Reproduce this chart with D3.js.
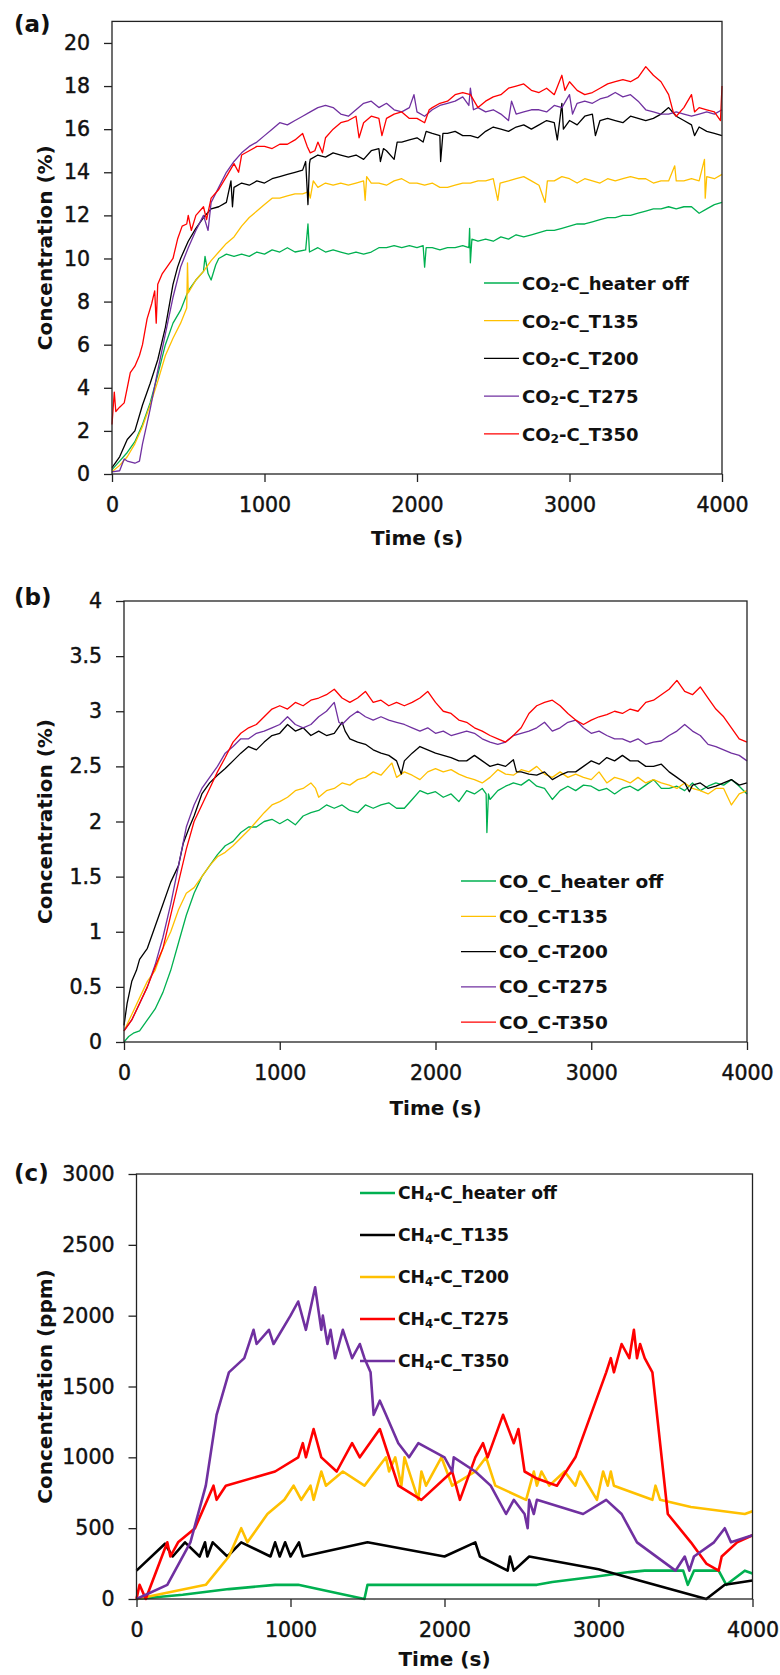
<!DOCTYPE html>
<html>
<head>
<meta charset="utf-8">
<script src="https://cdn.jsdelivr.net/npm/d3@7"></script>
<style>
  body { margin: 0; background: #fff; }
  svg text { font-family: "DejaVu Sans", sans-serif; fill: #111; }
</style>
</head>
<body>
<svg id="chart" width="780" height="1675"></svg>
<script>
// ---- shared ----
const timeTicks = [0, 1000, 2000, 3000, 4000];
const seriesColors = { green: "#00b050", yellow: "#ffc000", black: "#000000", purple: "#7030a0", red: "#ff0000" };

// ---- (a) CO2-C, % ----
const co2Ticks = [0, 2, 4, 6, 8, 10, 12, 14, 16, 18, 20];
const co2Labels = ["CO2-C_heater off", "CO2-C_T135", "CO2-C_T200", "CO2-C_T275", "CO2-C_T350"];
const co2HeaterOff = [[0,0.2],[50,0.6],[100,1.0],[150,1.5],[200,2.3],[250,3.3],[300,4.6],[350,6.0],[400,7.0],[450,7.6],[500,8.5],[550,9.0],[600,9.4],[610,10.1],[630,9.3],[650,9.0],[680,9.7],[700,10.0],[750,10.2],[800,10.1],[850,10.2],[900,10.1],[950,10.3],[1000,10.2],[1050,10.4],[1100,10.3],[1150,10.5],[1200,10.3],[1270,10.4],[1285,11.6],[1295,10.3],[1350,10.5],[1400,10.3],[1450,10.4],[1500,10.3],[1550,10.2],[1600,10.3],[1650,10.2],[1700,10.3],[1750,10.5],[1800,10.5],[1850,10.6],[1900,10.5],[1950,10.6],[2000,10.5],[2040,10.6],[2050,9.6],[2060,10.5],[2100,10.5],[2150,10.4],[2200,10.5],[2250,10.5],[2300,10.6],[2340,10.5],[2345,11.4],[2350,9.8],[2360,10.9],[2400,10.8],[2450,10.9],[2500,10.8],[2550,11.0],[2600,10.9],[2650,11.1],[2700,11.0],[2750,11.1],[2800,11.2],[2850,11.3],[2900,11.3],[2950,11.4],[3000,11.5],[3050,11.6],[3100,11.6],[3150,11.7],[3200,11.8],[3250,11.9],[3300,11.9],[3350,12.0],[3400,12.0],[3450,12.1],[3500,12.2],[3550,12.3],[3600,12.3],[3650,12.4],[3700,12.3],[3750,12.4],[3800,12.4],[3850,12.1],[3900,12.3],[3950,12.5],[4000,12.6]];
const co2T135 = [[0,0.1],[50,0.4],[100,0.8],[150,1.4],[200,2.2],[250,3.2],[300,4.3],[350,5.5],[400,6.3],[450,7.0],[490,7.7],[495,9.8],[500,8.4],[550,9.0],[600,9.4],[650,9.9],[700,10.3],[750,10.7],[800,11.0],[850,11.5],[900,11.9],[950,12.2],[1000,12.5],[1050,12.8],[1100,12.8],[1150,12.9],[1200,13.0],[1250,13.0],[1290,13.1],[1300,12.8],[1320,13.6],[1350,13.3],[1400,13.5],[1450,13.4],[1500,13.5],[1550,13.4],[1600,13.5],[1650,13.6],[1660,12.7],[1670,13.8],[1700,13.5],[1750,13.5],[1800,13.4],[1850,13.6],[1900,13.7],[1950,13.5],[2000,13.5],[2050,13.4],[2100,13.5],[2150,13.3],[2200,13.3],[2250,13.4],[2300,13.5],[2350,13.5],[2400,13.6],[2450,13.6],[2500,13.7],[2530,12.7],[2545,13.5],[2600,13.6],[2650,13.7],[2700,13.8],[2750,13.6],[2800,13.4],[2840,12.6],[2855,13.6],[2900,13.6],[2950,13.8],[3000,13.7],[3050,13.5],[3100,13.7],[3150,13.6],[3200,13.5],[3250,13.7],[3300,13.6],[3350,13.7],[3400,13.8],[3450,13.7],[3500,13.7],[3550,13.5],[3600,13.6],[3650,13.6],[3690,14.3],[3700,13.6],[3750,13.6],[3800,13.7],[3850,13.6],[3885,14.6],[3890,12.8],[3900,13.8],[3950,13.7],[4000,13.9]];
const co2T200 = [[0,0.3],[50,0.8],[100,1.6],[150,2.0],[200,3.2],[250,4.2],[300,5.3],[350,6.8],[400,8.8],[430,9.6],[450,10.0],[500,10.8],[550,11.4],[600,11.9],[650,12.3],[700,12.4],[750,12.6],[780,13.6],[790,12.4],[800,13.3],[850,13.5],[900,13.4],[950,13.6],[1000,13.5],[1050,13.7],[1100,13.8],[1150,13.9],[1200,14.0],[1250,14.1],[1270,14.5],[1285,12.5],[1295,14.4],[1300,14.6],[1350,14.8],[1400,14.7],[1450,14.9],[1500,14.8],[1550,14.7],[1600,14.8],[1650,14.6],[1700,15.0],[1750,15.1],[1760,14.5],[1780,15.1],[1800,15.0],[1850,14.6],[1870,15.4],[1900,15.4],[1950,15.5],[2000,15.6],[2040,15.4],[2060,15.9],[2100,15.8],[2150,15.7],[2155,14.5],[2170,15.8],[2200,15.8],[2250,15.9],[2300,15.7],[2350,15.7],[2400,15.6],[2450,15.9],[2500,16.1],[2550,16.0],[2600,15.9],[2650,16.1],[2700,16.2],[2750,16.0],[2800,16.2],[2850,16.4],[2900,16.3],[2920,15.5],[2950,17.2],[2960,16.0],[3000,16.4],[3050,16.2],[3100,16.6],[3150,16.7],[3170,15.7],[3200,16.4],[3250,16.5],[3300,16.4],[3350,16.3],[3400,16.6],[3450,16.5],[3500,16.4],[3550,16.5],[3600,16.7],[3650,17.0],[3700,16.6],[3750,16.4],[3800,16.2],[3820,15.7],[3850,16.1],[3900,15.9],[3950,15.8],[4000,15.7]];
const co2T275 = [[0,0.1],[50,0.15],[80,0.7],[100,0.6],[150,0.5],[180,0.6],[200,1.4],[250,3.0],[300,4.8],[350,6.5],[400,8.2],[450,9.6],[500,10.5],[550,11.3],[600,12.0],[630,11.3],[650,12.6],[700,13.3],[750,14.0],[800,14.5],[850,14.9],[900,15.2],[950,15.4],[1000,15.7],[1050,16.0],[1100,16.3],[1150,16.2],[1200,16.4],[1250,16.6],[1300,16.8],[1350,17.0],[1400,17.1],[1450,17.0],[1500,16.7],[1550,16.6],[1600,16.9],[1650,17.2],[1700,17.3],[1750,17.0],[1800,17.2],[1850,16.9],[1900,16.8],[1950,17.0],[1980,17.6],[2000,16.8],[2050,16.6],[2100,16.9],[2150,17.1],[2200,17.2],[2250,17.3],[2300,17.5],[2340,17.1],[2350,17.9],[2370,16.9],[2400,17.0],[2450,16.8],[2500,16.9],[2550,16.7],[2600,16.4],[2620,17.3],[2650,16.7],[2700,16.8],[2750,16.9],[2800,16.9],[2850,16.8],[2900,17.1],[2950,17.0],[3000,17.6],[3020,16.7],[3050,17.2],[3100,17.3],[3150,17.2],[3200,17.4],[3250,17.5],[3300,17.7],[3350,17.5],[3400,17.6],[3450,17.3],[3500,16.9],[3550,16.8],[3600,16.7],[3650,16.7],[3700,16.8],[3750,16.7],[3800,16.6],[3850,16.7],[3900,16.8],[3950,16.7],[4000,16.9]];
const co2T350 = [[0,2.3],[15,3.8],[25,2.9],[50,3.1],[80,3.3],[100,4.0],[120,4.7],[150,5.0],[180,5.5],[200,6.0],[230,7.2],[260,7.9],[280,8.5],[290,7.0],[300,8.8],[330,9.3],[360,9.6],[400,10.0],[430,10.9],[460,11.5],[490,11.6],[500,12.0],[520,11.3],[550,12.0],[600,12.4],[620,11.8],[650,12.8],[700,13.2],[750,13.8],[800,14.4],[830,14.0],[850,14.8],[900,15.0],[950,15.2],[1000,15.2],[1050,15.1],[1100,15.3],[1150,15.3],[1200,15.5],[1250,15.8],[1280,15.2],[1300,14.9],[1330,15.0],[1350,15.4],[1380,14.9],[1400,15.6],[1450,16.0],[1500,16.3],[1550,16.4],[1600,16.6],[1620,15.6],[1650,16.3],[1700,16.6],[1750,16.5],[1770,15.7],[1800,16.5],[1850,16.7],[1900,16.8],[1950,16.5],[2000,16.5],[2050,16.3],[2080,16.9],[2100,17.0],[2150,17.2],[2200,17.3],[2250,17.6],[2300,17.7],[2350,17.6],[2400,17.0],[2450,17.3],[2500,17.5],[2550,17.6],[2600,17.9],[2650,18.0],[2700,18.1],[2750,17.8],[2800,17.7],[2850,17.9],[2900,17.6],[2950,18.5],[2970,17.8],[3000,18.2],[3050,17.8],[3100,17.6],[3150,17.7],[3200,17.9],[3250,18.1],[3300,18.2],[3350,18.3],[3400,18.2],[3450,18.4],[3500,18.9],[3550,18.5],[3600,18.2],[3650,17.6],[3680,16.8],[3700,16.6],[3750,17.0],[3800,17.6],[3820,16.8],[3850,17.0],[3900,16.9],[3950,16.8],[3990,16.4],[4000,18.0]];

// ---- (b) CO_C, % ----
const coTicks = [0, 0.5, 1, 1.5, 2, 2.5, 3, 3.5, 4];
const coLabels = ["CO_C_heater off", "CO_C-T135", "CO_C-T200", "CO_C-T275", "CO_C-T350"];
const coHeaterOff = [[0,0],[30,0.05],[60,0.08],[100,0.1],[150,0.2],[200,0.3],[250,0.45],[300,0.65],[350,0.9],[400,1.15],[450,1.35],[500,1.5],[550,1.6],[600,1.7],[650,1.78],[700,1.82],[750,1.9],[800,1.95],[850,1.95],[900,2.0],[950,2.02],[1000,1.98],[1050,2.02],[1100,1.97],[1150,2.05],[1200,2.08],[1250,2.1],[1300,2.15],[1350,2.12],[1400,2.15],[1450,2.1],[1500,2.08],[1550,2.15],[1600,2.12],[1650,2.15],[1700,2.17],[1750,2.12],[1800,2.12],[1850,2.2],[1900,2.28],[1950,2.25],[2000,2.27],[2050,2.22],[2100,2.25],[2150,2.18],[2200,2.28],[2250,2.25],[2300,2.3],[2325,2.25],[2330,1.9],[2340,2.25],[2350,2.2],[2400,2.28],[2450,2.32],[2500,2.35],[2550,2.33],[2600,2.38],[2650,2.32],[2700,2.3],[2750,2.2],[2800,2.28],[2850,2.32],[2900,2.28],[2950,2.33],[3000,2.32],[3050,2.28],[3100,2.3],[3150,2.25],[3200,2.3],[3250,2.32],[3300,2.28],[3350,2.33],[3400,2.38],[3450,2.3],[3500,2.3],[3550,2.32],[3600,2.28],[3650,2.35],[3700,2.28],[3750,2.32],[3800,2.35],[3850,2.33],[3900,2.38],[3950,2.32],[4000,2.25]];
const coT135 = [[0,0.1],[50,0.25],[100,0.4],[150,0.55],[200,0.65],[250,0.85],[300,1.0],[350,1.2],[400,1.35],[450,1.4],[500,1.5],[550,1.6],[600,1.68],[650,1.72],[700,1.78],[750,1.85],[800,1.92],[850,2.0],[900,2.08],[950,2.15],[1000,2.18],[1050,2.22],[1100,2.28],[1150,2.3],[1200,2.35],[1230,2.3],[1250,2.22],[1300,2.28],[1350,2.3],[1400,2.35],[1450,2.33],[1500,2.38],[1550,2.4],[1600,2.45],[1650,2.42],[1700,2.5],[1720,2.53],[1750,2.4],[1800,2.45],[1850,2.42],[1900,2.38],[1950,2.45],[2000,2.48],[2050,2.45],[2100,2.47],[2150,2.43],[2200,2.4],[2250,2.38],[2300,2.35],[2350,2.4],[2400,2.47],[2450,2.43],[2500,2.42],[2550,2.47],[2600,2.45],[2650,2.5],[2700,2.43],[2750,2.4],[2800,2.45],[2850,2.4],[2900,2.43],[2950,2.4],[3000,2.38],[3050,2.45],[3100,2.35],[3150,2.4],[3200,2.38],[3250,2.35],[3300,2.4],[3350,2.35],[3400,2.38],[3450,2.35],[3500,2.33],[3550,2.3],[3600,2.35],[3650,2.3],[3700,2.28],[3750,2.25],[3800,2.3],[3850,2.3],[3900,2.15],[3950,2.25],[4000,2.28]];
const coT200 = [[0,0.15],[20,0.35],[50,0.55],[80,0.65],[100,0.75],[150,0.85],[200,1.05],[250,1.25],[300,1.45],[350,1.6],[380,1.8],[420,1.95],[450,2.05],[500,2.25],[550,2.35],[600,2.42],[650,2.48],[700,2.55],[750,2.62],[800,2.68],[850,2.65],[900,2.72],[950,2.78],[1000,2.8],[1050,2.88],[1100,2.82],[1150,2.85],[1200,2.78],[1250,2.82],[1300,2.78],[1350,2.8],[1400,2.9],[1420,2.82],[1450,2.75],[1500,2.72],[1550,2.7],[1600,2.65],[1650,2.62],[1700,2.6],[1750,2.55],[1780,2.43],[1800,2.55],[1850,2.62],[1900,2.68],[1950,2.65],[2000,2.62],[2050,2.6],[2100,2.58],[2150,2.55],[2200,2.55],[2250,2.6],[2300,2.55],[2350,2.5],[2400,2.52],[2450,2.5],[2500,2.56],[2520,2.45],[2550,2.45],[2600,2.43],[2650,2.42],[2700,2.45],[2750,2.38],[2800,2.42],[2850,2.45],[2900,2.45],[2950,2.5],[3000,2.55],[3050,2.52],[3100,2.58],[3150,2.55],[3200,2.6],[3250,2.55],[3300,2.55],[3350,2.5],[3400,2.5],[3450,2.52],[3500,2.45],[3550,2.4],[3600,2.35],[3630,2.27],[3650,2.33],[3700,2.35],[3750,2.3],[3800,2.32],[3850,2.35],[3900,2.38],[3950,2.33],[4000,2.35]];
const coT275 = [[0,0.1],[50,0.2],[100,0.35],[150,0.5],[200,0.7],[250,0.95],[300,1.25],[350,1.6],[400,1.95],[450,2.15],[500,2.3],[550,2.4],[600,2.5],[650,2.62],[700,2.68],[750,2.75],[800,2.75],[850,2.8],[900,2.82],[950,2.85],[1000,2.88],[1050,2.95],[1100,2.88],[1150,2.85],[1200,2.88],[1250,2.95],[1300,3.0],[1350,3.08],[1380,2.9],[1400,2.88],[1450,2.95],[1500,3.0],[1550,2.95],[1600,2.92],[1650,2.95],[1700,2.92],[1750,2.9],[1800,2.88],[1850,2.85],[1900,2.82],[1950,2.85],[2000,2.8],[2050,2.82],[2100,2.78],[2150,2.8],[2200,2.82],[2250,2.8],[2300,2.75],[2350,2.72],[2400,2.7],[2450,2.72],[2500,2.78],[2550,2.8],[2600,2.82],[2650,2.85],[2700,2.9],[2750,2.82],[2800,2.85],[2850,2.9],[2900,2.92],[2950,2.85],[3000,2.8],[3050,2.82],[3100,2.78],[3150,2.75],[3200,2.75],[3250,2.72],[3300,2.75],[3350,2.7],[3400,2.72],[3450,2.73],[3500,2.78],[3550,2.82],[3600,2.88],[3650,2.82],[3700,2.78],[3750,2.7],[3800,2.68],[3850,2.65],[3900,2.62],[3950,2.6],[4000,2.55]];
const coT350 = [[0,0.1],[50,0.2],[100,0.35],[150,0.5],[200,0.68],[250,0.85],[300,1.15],[350,1.45],[400,1.75],[450,2.0],[500,2.15],[550,2.3],[600,2.45],[650,2.58],[700,2.72],[750,2.8],[800,2.85],[850,2.88],[900,2.95],[950,3.02],[1000,3.05],[1050,3.02],[1100,3.08],[1150,3.05],[1200,3.1],[1250,3.12],[1300,3.15],[1350,3.2],[1400,3.12],[1450,3.08],[1500,3.12],[1550,3.18],[1600,3.08],[1650,3.1],[1700,3.05],[1750,3.08],[1800,3.05],[1850,3.08],[1900,3.12],[1950,3.18],[2000,3.08],[2050,3.0],[2100,2.98],[2150,2.92],[2200,2.9],[2250,2.85],[2300,2.82],[2350,2.78],[2400,2.75],[2450,2.72],[2500,2.78],[2550,2.85],[2600,2.98],[2650,3.05],[2700,3.08],[2750,3.1],[2800,3.05],[2850,2.98],[2900,2.92],[2950,2.88],[3000,2.92],[3050,2.95],[3100,2.97],[3150,3.0],[3200,2.98],[3250,3.02],[3300,3.0],[3350,3.08],[3400,3.1],[3450,3.15],[3500,3.2],[3550,3.28],[3600,3.18],[3650,3.15],[3700,3.22],[3750,3.12],[3800,3.02],[3850,2.95],[3900,2.85],[3950,2.75],[4000,2.72]];

// ---- (c) CH4-C, ppm ----
const ch4Ticks = [0, 500, 1000, 1500, 2000, 2500, 3000];
const ch4Labels = ["CH4-C_heater off", "CH4-C_T135", "CH4-C_T200", "CH4-C_T275", "CH4-C_T350"];
const ch4HeaterOff = [[0,0],[300,30],[600,70],[900,100],[1050,100],[1480,0],[1500,100],[2600,100],[2700,120],[3000,160],[3200,190],[3300,200],[3550,200],[3580,100],[3620,200],[3780,200],[3830,100],[3950,200],[4000,180]];
const ch4T135 = [[0,200],[185,390],[235,300],[315,400],[410,300],[445,400],[460,300],[495,400],[590,300],[680,400],[870,300],[900,400],[930,300],[965,400],[1000,300],[1055,400],[1080,300],[1500,400],[2000,300],[2200,400],[2230,300],[2410,200],[2425,300],[2450,200],[2550,300],[3000,210],[3700,0],[3820,100],[4000,130]];
const ch4T200 = [[0,0],[450,100],[600,300],[680,500],[720,400],[850,600],[960,700],[1020,800],[1070,700],[1130,800],[1150,700],[1200,900],[1230,800],[1340,900],[1480,800],[1620,1000],[1640,900],[1680,1000],[1720,800],[1740,1000],[1830,700],[1850,900],[1880,800],[1980,1000],[2050,800],[2200,900],[2270,1000],[2330,800],[2530,700],[2580,900],[2600,800],[2630,900],[2680,800],[2780,900],[2850,800],[2880,900],[2990,700],[3030,900],[3060,800],[3080,900],[3100,800],[3350,700],[3370,800],[3400,700],[3600,650],[3950,600],[4000,620]];
const ch4T275 = [[0,0],[20,100],[60,0],[200,400],[220,300],[270,400],[380,500],[500,800],[520,700],[580,800],[900,900],[1050,1000],[1080,1100],[1100,1000],[1150,1200],[1200,1000],[1300,900],[1400,1100],[1450,1000],[1580,1200],[1700,800],[1850,700],[2050,900],[2100,700],[2200,1000],[2250,1100],[2280,1000],[2380,1300],[2450,1100],[2480,1200],[2520,900],[2600,850],[2730,800],[2850,1000],[2950,1300],[3050,1600],[3080,1700],[3100,1600],[3150,1800],[3200,1700],[3230,1900],[3250,1700],[3270,1800],[3300,1700],[3350,1600],[3450,600],[3600,400],[3700,250],[3780,200],[3800,300],[3900,400],[4000,450]];
const ch4T350 = [[0,0],[200,100],[350,400],[450,800],[520,1300],[600,1600],[700,1700],[760,1900],[780,1800],[860,1900],[890,1800],[1000,2000],[1050,2100],[1100,1900],[1160,2200],[1200,1900],[1210,2000],[1240,1800],[1260,1900],[1290,1700],[1340,1900],[1400,1700],[1450,1800],[1480,1700],[1520,1600],[1540,1300],[1580,1400],[1620,1300],[1700,1100],[1770,1000],[1830,1100],[2000,1000],[2050,900],[2060,1000],[2200,900],[2300,800],[2400,600],[2450,700],[2520,600],[2540,500],[2550,700],[2580,600],[2600,700],[2900,600],[3050,700],[3150,600],[3250,400],[3500,200],[3560,300],[3590,200],[3620,300],[3750,400],[3820,500],[3860,400],[4000,450]];

const svg = d3.select("#chart");

// "CO2-C..." -> CO + subscript 2 + rest
function labelText(sel, label) {
  const m = label.match(/^(CO|CH)(\d)(.*)$/);
  if (!m) { sel.text(label); return; }
  sel.append("tspan").text(m[1]);
  sel.append("tspan").attr("font-size", "0.68em").attr("dy", 5).text(m[2]);
  sel.append("tspan").attr("dy", -5).text(m[3]);
}

function drawPanel(cfg) {
  const x = d3.scaleLinear().domain([0, 4000]).range([cfg.left, cfg.right]);
  const y = d3.scaleLinear().domain([0, cfg.yMax]).range([cfg.bottom, cfg.top]);
  const g = svg.append("g");

  const line = d3.line().x(d => x(d[0])).y(d => y(d[1]));
  g.append("g").selectAll("path")
    .data(cfg.series)
    .join("path")
      .attr("fill", "none")
      .attr("stroke", d => d.color)
      .attr("stroke-width", cfg.lineWidth)
      .attr("stroke-linejoin", "round")
      .attr("d", d => line(d.values));

  // plot frame
  g.append("rect")
    .attr("x", cfg.left).attr("y", cfg.top)
    .attr("width", cfg.right - cfg.left).attr("height", cfg.bottom - cfg.top)
    .attr("fill", "none").attr("stroke", "#222").attr("stroke-width", 1.3);

  const xAxis = g.append("g")
    .attr("transform", `translate(0,${cfg.bottom})`)
    .call(d3.axisBottom(x).tickValues(timeTicks).tickSize(8).tickPadding(15).tickFormat(d3.format("d")));
  const yAxis = g.append("g")
    .attr("transform", `translate(${cfg.left},0)`)
    .call(d3.axisLeft(y).tickValues(cfg.ticks).tickSize(8).tickPadding(14).tickFormat(d => String(d)));
  [xAxis, yAxis].forEach(a => {
    a.select(".domain").remove();
    a.selectAll(".tick line").attr("stroke", "#222").attr("stroke-width", 1.3);
    a.selectAll(".tick text")
      .attr("font-family", "DejaVu Sans, sans-serif")
      .attr("font-size", 20.5).attr("fill", "#111")
      .attr("stroke", "#111").attr("stroke-width", 0.45);
  });

  // axis titles
  g.append("text")
    .attr("x", (cfg.left + cfg.right) / 2).attr("y", cfg.bottom + cfg.xTitleGap)
    .attr("text-anchor", "middle").attr("dominant-baseline", "central")
    .attr("font-size", 20).attr("font-weight", 700)
    .text("Time (s)");
  g.append("text")
    .attr("transform", `translate(45,${(cfg.top + cfg.bottom) / 2}) rotate(-90)`)
    .attr("text-anchor", "middle").attr("dominant-baseline", "central")
    .attr("font-size", 20).attr("font-weight", 700)
    .text(cfg.yTitle);

  // panel tag
  g.append("text")
    .attr("x", 14).attr("y", cfg.tagY)
    .attr("dominant-baseline", "central")
    .attr("font-size", 23).attr("font-weight", 700)
    .text(cfg.tag);

  // legend
  const leg = g.append("g");
  cfg.series.forEach((s, i) => {
    const ly = cfg.legend.y0 + i * cfg.legend.dy;
    leg.append("line")
      .attr("x1", cfg.legend.x1).attr("x2", cfg.legend.x2)
      .attr("y1", ly).attr("y2", ly)
      .attr("stroke", s.color).attr("stroke-width", cfg.legendLineWidth);
    const t = leg.append("text")
      .attr("x", cfg.legend.x2 + 3).attr("y", ly)
      .attr("dominant-baseline", "central")
      .attr("font-size", cfg.legend.fontSize).attr("font-weight", 700);
    labelText(t, s.label);
  });
}

drawPanel({
  tag: "(a)", tagY: 24, xTitleGap: 64,
  left: 112, right: 722, top: 21.4, bottom: 474, yMax: 21,
  ticks: co2Ticks, yTitle: "Concentration (%)", lineWidth: 1.3, legendLineWidth: 1.3,
  legend: { x1: 484, x2: 519, y0: 283, dy: 37.7, fontSize: 18 },
  series: [
    { label: co2Labels[0], color: seriesColors.green, values: co2HeaterOff },
    { label: co2Labels[1], color: seriesColors.yellow, values: co2T135 },
    { label: co2Labels[2], color: seriesColors.black, values: co2T200 },
    { label: co2Labels[3], color: seriesColors.purple, values: co2T275 },
    { label: co2Labels[4], color: seriesColors.red, values: co2T350 }
  ]
});

drawPanel({
  tag: "(b)", tagY: 597, xTitleGap: 66,
  left: 124, right: 747, top: 601, bottom: 1042, yMax: 4,
  ticks: coTicks, yTitle: "Concentration (%)", lineWidth: 1.3, legendLineWidth: 1.3,
  legend: { x1: 461, x2: 496, y0: 881, dy: 35.3, fontSize: 18.5 },
  series: [
    { label: coLabels[0], color: seriesColors.green, values: coHeaterOff },
    { label: coLabels[1], color: seriesColors.yellow, values: coT135 },
    { label: coLabels[2], color: seriesColors.black, values: coT200 },
    { label: coLabels[3], color: seriesColors.purple, values: coT275 },
    { label: coLabels[4], color: seriesColors.red, values: coT350 }
  ]
});

drawPanel({
  tag: "(c)", tagY: 1173, xTitleGap: 60,
  left: 136.5, right: 752.5, top: 1174, bottom: 1599, yMax: 3000,
  ticks: ch4Ticks, yTitle: "Concentration (ppm)", lineWidth: 2.6, legendLineWidth: 2.6,
  legend: { x1: 360, x2: 395, y0: 1193, dy: 42, fontSize: 17.2 },
  series: [
    { label: ch4Labels[0], color: seriesColors.green, values: ch4HeaterOff },
    { label: ch4Labels[1], color: seriesColors.black, values: ch4T135 },
    { label: ch4Labels[2], color: seriesColors.yellow, values: ch4T200 },
    { label: ch4Labels[3], color: seriesColors.red, values: ch4T275 },
    { label: ch4Labels[4], color: seriesColors.purple, values: ch4T350 }
  ]
});
</script>
</body>
</html>
